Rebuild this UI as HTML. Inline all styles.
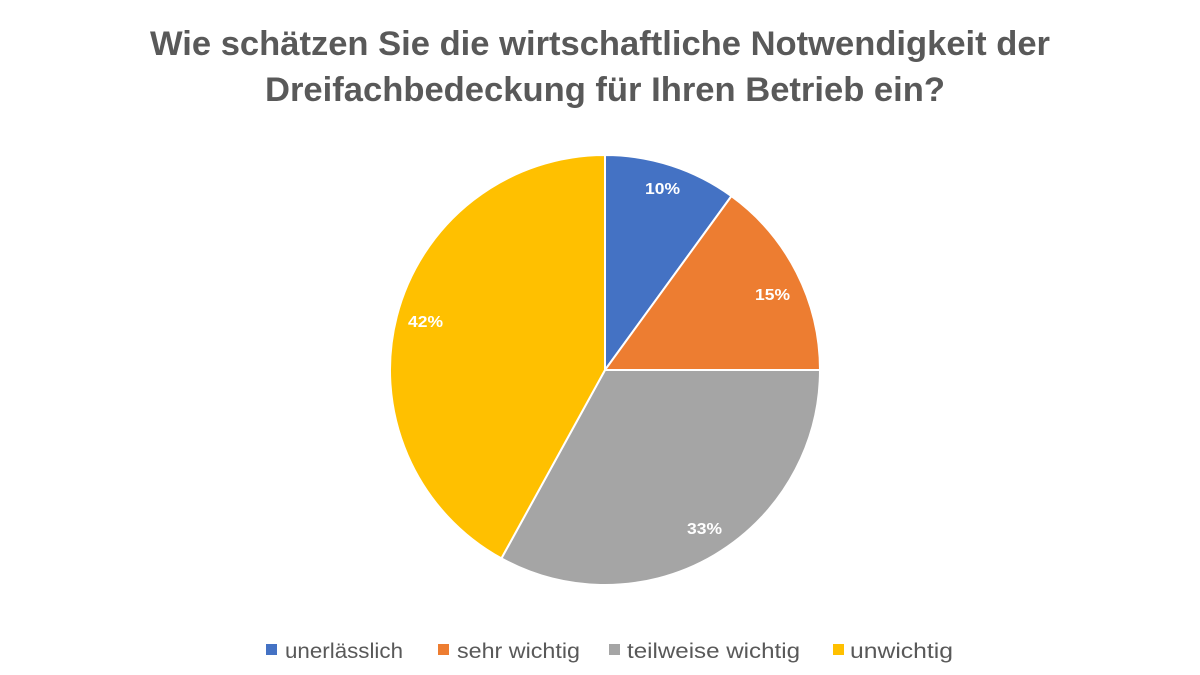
<!DOCTYPE html>
<html><head><meta charset="utf-8"><style>
html,body{margin:0;padding:0;background:#fff;width:1200px;height:675px;overflow:hidden}
</style></head><body>
<svg width="1200" height="675" viewBox="0 0 1200 675" xmlns="http://www.w3.org/2000/svg" font-family="Liberation Sans, sans-serif">
<rect width="1200" height="675" fill="#fff"/>
<text x="150" y="55" textLength="900" lengthAdjust="spacingAndGlyphs" font-size="34" font-weight="bold" fill="#595959">Wie schätzen Sie die wirtschaftliche Notwendigkeit der</text>
<text x="265" y="101" textLength="680" lengthAdjust="spacingAndGlyphs" font-size="34" font-weight="bold" fill="#595959">Dreifachbedeckung für Ihren Betrieb ein?</text>
<g stroke="#fff" stroke-width="2" stroke-linejoin="round">
<path d="M605,370 L605,155 A215,215 0 0 1 731.4,196.1 Z" fill="#4472C4"/>
<path d="M605,370 L731.4,196.1 A215,215 0 0 1 820,370 Z" fill="#ED7D31"/>
<path d="M605,370 L820,370 A215,215 0 0 1 501.4,558.4 Z" fill="#A5A5A5"/>
<path d="M605,370 L501.4,558.4 A215,215 0 0 1 605,155 Z" fill="#FFC000"/>
</g>
<g fill="#fff" font-size="16" font-weight="bold">
<text x="645" y="194" textLength="35" lengthAdjust="spacingAndGlyphs">10%</text>
<text x="755" y="300" textLength="35" lengthAdjust="spacingAndGlyphs">15%</text>
<text x="687" y="534" textLength="35" lengthAdjust="spacingAndGlyphs">33%</text>
<text x="408" y="327" textLength="35" lengthAdjust="spacingAndGlyphs">42%</text>
</g>
<g font-size="21" fill="#595959">
<rect x="266" y="644" width="11" height="11" fill="#4472C4"/>
<text x="285" y="658" textLength="118" lengthAdjust="spacingAndGlyphs">unerlässlich</text>
<rect x="438" y="644" width="11" height="11" fill="#ED7D31"/>
<text x="457" y="658" textLength="123" lengthAdjust="spacingAndGlyphs">sehr wichtig</text>
<rect x="609" y="644" width="11" height="11" fill="#A5A5A5"/>
<text x="627" y="658" textLength="173" lengthAdjust="spacingAndGlyphs">teilweise wichtig</text>
<rect x="833" y="644" width="11" height="11" fill="#FFC000"/>
<text x="850" y="658" textLength="103" lengthAdjust="spacingAndGlyphs">unwichtig</text>
</g>
</svg>
</body></html>
